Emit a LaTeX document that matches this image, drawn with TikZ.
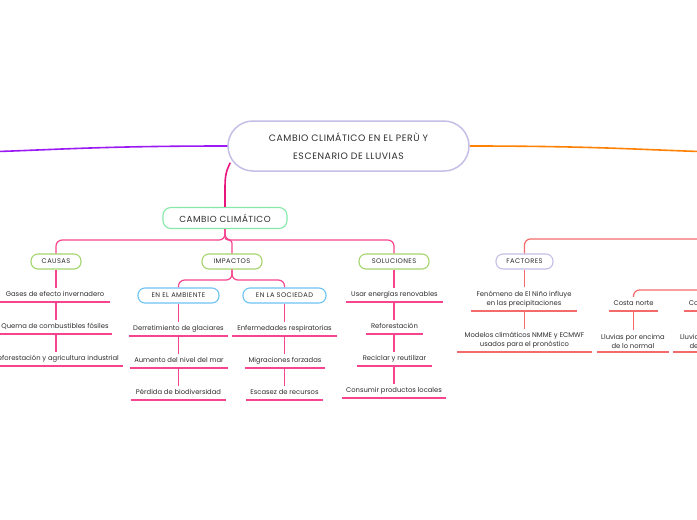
\documentclass[tikz,border=0pt]{standalone}
\usepackage{fontspec}
\setmainfont{Poppins}
\newfontfamily\capfont[LetterSpace=6]{Poppins}
\usetikzlibrary{calc}
\definecolor{lav}{HTML}{C3BFE6}
\definecolor{purp}{HTML}{9B19F5}
\definecolor{oran}{HTML}{FF8205}
\definecolor{mag}{HTML}{E8157F}
\definecolor{pinkl}{HTML}{F7448F}
\definecolor{grn}{HTML}{86E8A8}
\definecolor{limeg}{HTML}{A5D46E}
\definecolor{sky}{HTML}{6EC3F2}
\definecolor{coral}{HTML}{F46A6A}
\definecolor{txt}{HTML}{2E2E2E}
\begin{document}
\begin{tikzpicture}[x=1pt,y=-1pt,
  hbox/.style={draw, fill=white, line width=1.1pt, rounded corners=7pt, minimum height=15pt, inner sep=0pt, text=txt, font=\capfont\fontsize{6.7}{7}\selectfont},
  leaf/.style={text=txt, font=\fontsize{6.8}{8}\selectfont, inner xsep=0pt, inner ysep=3.5pt, text height=5.2pt, text depth=1.6pt, anchor=south},
  leaftwo/.style={text=txt, font=\fontsize{6.8}{9}\selectfont, inner xsep=0pt, inner ysep=3.5pt, align=center, anchor=south},
  pline/.style={pinkl, line width=1.2pt},
  cline/.style={coral, line width=1.2pt},
  uline/.style={line width=1.3pt}
]
\useasboundingbox (0,0) rectangle (697,520);
\clip (0,0) rectangle (697,520);
\fill[white] (0,0) rectangle (697,520);

% main node
\node[draw=lav, line width=1.5pt, fill=white, rounded corners=25pt, minimum width=241pt, minimum height=50pt, inner sep=0pt, align=center, text=txt, font=\capfont\fontsize{9.3}{18.5}\selectfont] (main) at (348.5,146) {CAMBIO CLIMÁTICO EN EL PERÙ Y\\ESCENARIO DE LLUVIAS};

\coordinate (lEdge) at (-2,151.5);
\coordinate (rEdge) at (699,151.5);
\draw[purp, line width=1.6pt] (main.west) .. controls +(-120,0) and +(60,-2) .. (lEdge);
\draw[oran, line width=1.6pt] (main.east) .. controls +(120,0) and +(-60,-2) .. (rEdge);

% cambio climatico
\node[hbox, draw=grn, rounded corners=8pt, minimum width=124pt, minimum height=21pt, font=\capfont\fontsize{8.8}{9}\selectfont] (cambio) at (225,218) {CAMBIO CLIMÁTICO};
\coordinate (cbend) at (225,190);
\draw[mag, line width=1.6pt] ([xshift=3pt,yshift=9pt]main.south west) .. controls +(-5,10) and +(0,-12) .. (cbend) -- (cambio.north);

% second level
\node[hbox, draw=limeg, minimum width=50pt] (causas) at (56,261.5) {CAUSAS};
\node[hbox, draw=limeg, minimum width=60pt] (impactos) at (232,261.5) {IMPACTOS};
\node[hbox, draw=limeg, minimum width=70pt] (soluciones) at (394,261.5) {SOLUCIONES};

\draw[pline, rounded corners=6pt] (cambio.south) -- ++(0,11) -| (causas.north);
\draw[pline, rounded corners=6pt] (cambio.south) -- ++(0,11) -| (soluciones.north);
\draw[pline, rounded corners=3pt] (cambio.south) -- ++(0,11) -| (impactos.north);

% impactos children
\node[hbox, draw=sky, minimum width=81pt] (amb) at (178.5,295.5) {EN EL AMBIENTE};
\node[hbox, draw=sky, minimum width=83pt] (soc) at (284.5,295.5) {EN LA SOCIEDAD};
\draw[pline, rounded corners=6pt] (impactos.south) -- ++(0,10.5) -| (amb.north);
\draw[pline, rounded corners=6pt] (impactos.south) -- ++(0,10.5) -| (soc.north);

% causas leaves
\node[leaf, minimum width=110pt] (c1) at (55,302) {Gases de efecto invernadero};
\node[leaf, minimum width=114pt] (c2) at (55,334) {Quema de combustibles fósiles};
\node[leaf, minimum width=134pt] (c3) at (56,366) {Deforestación y agricultura industrial};
\foreach \n in {c1,c2,c3} \draw[pinkl, uline] (\n.south west) -- (\n.south east);
\draw[pline] (causas.south) -- (causas.south |- c1.north);
\draw[pline] (causas.south |- c1.south) -- (causas.south |- c2.north);
\draw[pline] (causas.south |- c2.south) -- (causas.south |- c3.north);

% ambiente leaves
\node[leaf, minimum width=99pt] (a1) at (178.5,336) {Derretimiento de glaciares};
\node[leaf, minimum width=98pt] (a2) at (179,368) {Aumento del nivel del mar};
\node[leaf, minimum width=95pt] (a3) at (178.5,400) {Pérdida de biodiversidad};
\foreach \n in {a1,a2,a3} \draw[pinkl, uline] (\n.south west) -- (\n.south east);
\draw[pline] (amb.south) -- (amb.south |- a1.north);
\draw[pline] (amb.south |- a1.south) -- (amb.south |- a2.north);
\draw[pline] (amb.south |- a2.south) -- (amb.south |- a3.north);

% sociedad leaves
\node[leaf, minimum width=105pt] (s1) at (284.5,336) {Enfermedades respiratorias};
\node[leaf, minimum width=80pt] (s2) at (285,368) {Migraciones forzadas};
\node[leaf, minimum width=77pt] (s3) at (284.5,400) {Escasez de recursos};
\foreach \n in {s1,s2,s3} \draw[pinkl, uline] (\n.south west) -- (\n.south east);
\draw[pline] (soc.south) -- (soc.south |- s1.north);
\draw[pline] (soc.south |- s1.south) -- (soc.south |- s2.north);
\draw[pline] (soc.south |- s2.south) -- (soc.south |- s3.north);

% soluciones leaves
\node[leaf, minimum width=97pt] (o1) at (394.5,302) {Usar energías renovables};
\node[leaf, minimum width=57pt] (o2) at (394.5,334) {Reforestación};
\node[leaf, minimum width=75pt] (o3) at (394.5,366) {Reciclar y reutilizar};
\node[leaf, minimum width=104pt] (o4) at (394,398) {Consumir productos locales};
\foreach \n in {o1,o2,o3,o4} \draw[pinkl, uline] (\n.south west) -- (\n.south east);
\draw[pline] (soluciones.south) -- (soluciones.south |- o1.north);
\draw[pline] (soluciones.south |- o1.south) -- (soluciones.south |- o2.north);
\draw[pline] (soluciones.south |- o2.south) -- (soluciones.south |- o3.north);
\draw[pline] (soluciones.south |- o3.south) -- (soluciones.south |- o4.north);

% factores
\node[hbox, draw=lav, minimum width=57pt] (factores) at (524.5,261.5) {FACTORES};
\coordinate (fEdge) at (700,239);
\draw[cline, rounded corners=6pt] (factores.north) |- (fEdge);
\node[leaftwo, minimum width=106pt] (f1) at (524,311) {Fenómeno de El Niño influye\\en las precipitaciones};
\node[leaftwo, minimum width=135pt] (f2) at (524.5,352) {Modelos climáticos NMME y ECMWF\\usados para el pronóstico};
\foreach \n in {f1,f2} \draw[coral, uline] (\n.south west) -- (\n.south east);
\draw[cline] (factores.south) -- (factores.south |- f1.north);
\draw[cline] (factores.south |- f1.south) -- (factores.south |- f2.north);

% costa norte
\node[leaf, minimum width=49pt] (cn) at (633.5,311) {Costa norte};
\node[leaftwo, minimum width=72pt] (cn1) at (633,352) {Lluvias por encima\\de lo normal};
\coordinate (cEdge) at (700,290);
\draw[cline, rounded corners=6pt] (cn.north) |- (cEdge);
\foreach \n in {cn,cn1} \draw[coral, uline] (\n.south west) -- (\n.south east);
\draw[cline] (cn.south) -- (cn.south |- cn1.north);

% second costa (cut off by the picture's edge, as in the reference)
\node[leaf, minimum width=54pt] (cc) at (711,311) {Costa centro};
\node[leaftwo, minimum width=76pt] (cc1) at (711,352) {Lluvias por debajo\\de lo normal};
\foreach \n in {cc,cc1} \draw[coral, uline] (\n.south west) -- (\n.south east);
\end{tikzpicture}
\end{document}
